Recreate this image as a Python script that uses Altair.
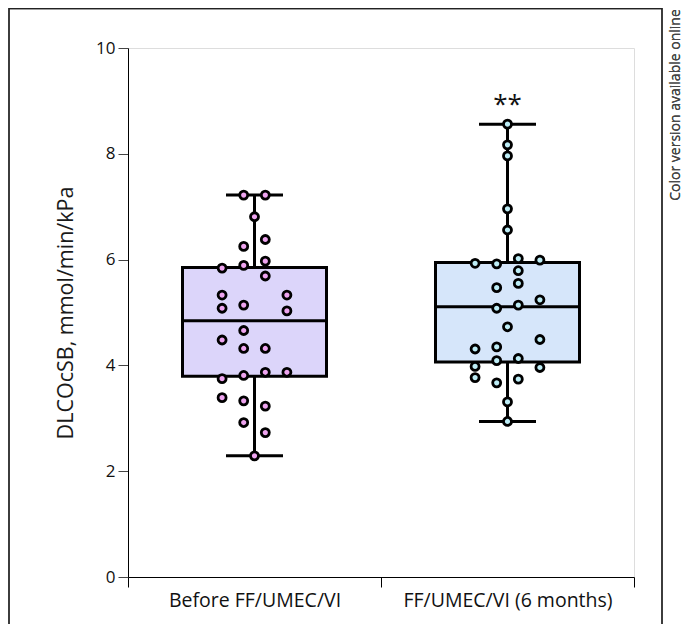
import altair as alt
import pandas as pd

groups = ["Before FF/UMEC/VI", "FF/UMEC/VI (6 months)"]

before_vals = [7.22, 7.22, 6.81, 6.38, 6.25, 5.97, 5.89, 5.84, 5.69, 5.33, 5.33, 5.08, 5.14, 5.03,
               4.66, 4.48, 4.32, 4.32, 3.87, 3.87, 3.81, 3.75, 3.39, 3.33, 3.23, 2.92, 2.73, 2.29]
before_cols = [-1, 1, 0, 1, -1, 1, -1, -3, 1, -3, 3, -3, -1, 3,
               -1, -3, -1, 1, 1, 3, -1, -3, -3, -1, 1, -1, 1, 0]

after_vals = [8.56, 8.17, 7.96, 6.96, 6.56, 5.93, 5.92, 6.02, 5.99, 5.79, 5.55, 5.47, 5.24, 5.08,
              5.14, 4.73, 4.49, 4.31, 4.35, 4.09, 4.13, 3.98, 3.96, 3.77, 3.67, 3.74, 3.31, 2.94]
after_cols = [0, 0, 0, 0, 0, -3, -1, 1, 3, 1, 1, -1, 3, -1,
              1, 0, 3, -3, -1, -1, 1, -3, 3, -3, -1, 1, 0, 0]

box_fills = ["#dcd5fa", "#d6e6fa"]
point_fills = ["#eea4ef", "#bdedf6"]

sig_label = ["", "**"]
sig_y = [0, 8.93]

y_ticks = [0, 2, 4, 6, 8, 10]

rows = []
for v, c in zip(before_vals, before_cols):
    rows.append({"group": groups[0], "value": v, "col": c})
for v, c in zip(after_vals, after_cols):
    rows.append({"group": groups[1], "value": v, "col": c})
df = pd.DataFrame(rows)

ann = pd.DataFrame({"group": groups, "label": sig_label, "y": sig_y})

FONT = "Open Sans"

x_enc = alt.X("group:N", sort=groups,
              scale=alt.Scale(domain=groups, paddingInner=0, paddingOuter=0),
              axis=alt.Axis(title=None, labelAngle=0, tickBand="extent", tickSize=10,
                            labelFontSize=19.5, labelPadding=4, labelColor="#111", labelLimit=400,
                            domainColor="#000", tickColor="#000", labelFont=FONT))
y_scale = alt.Scale(domain=[0, 10], nice=False)
y_axis = alt.Axis(values=y_ticks, title="DLCOcSB, mmol/min/kPa", grid=False, tickSize=10,
                  labelFontSize=17, labelPadding=3, titleFontSize=21.5, titleFontWeight="normal",
                  titlePadding=18, domainColor="#000", tickColor="#444", labelColor="#111",
                  titleColor="#1a1a1a", labelFont=FONT, titleFont=FONT)

base = alt.Chart(df)
agg = base.transform_aggregate(
    q1="q1(value)", med="median(value)", q3="q3(value)", lo="min(value)", hi="max(value)",
    groupby=["group"])

fill_scale = alt.Scale(domain=groups, range=box_fills)
pt_scale = alt.Scale(domain=groups, range=point_fills)

whisker = agg.mark_rule(color="black", strokeWidth=3).encode(
    x=x_enc, y=alt.Y("lo:Q", scale=y_scale, axis=y_axis), y2="hi:Q")
box = agg.mark_bar(size=144, stroke="black", strokeWidth=3).encode(
    x=x_enc, y=alt.Y("q1:Q", scale=y_scale, axis=y_axis), y2="q3:Q",
    fill=alt.Fill("group:N", scale=fill_scale, legend=None))
median = agg.mark_tick(size=144, thickness=3, color="black", opacity=1).encode(
    x=x_enc, y=alt.Y("med:Q", scale=y_scale, axis=y_axis))
cap_lo = agg.mark_tick(size=57, thickness=3, color="black", opacity=1).encode(
    x=x_enc, y=alt.Y("lo:Q", scale=y_scale, axis=y_axis))
cap_hi = agg.mark_tick(size=57, thickness=3, color="black", opacity=1).encode(
    x=x_enc, y=alt.Y("hi:Q", scale=y_scale, axis=y_axis))

points = base.mark_circle(size=64, stroke="black", strokeWidth=2.8, opacity=1).encode(
    x=x_enc,
    xOffset=alt.XOffset("col:Q", scale=alt.Scale(domain=[-11.71, 11.71])),
    y=alt.Y("value:Q", scale=y_scale, axis=y_axis),
    fill=alt.Fill("group:N", scale=pt_scale, legend=None))

stars = alt.Chart(ann).mark_text(fontSize=26, font=FONT, color="#111", baseline="middle").encode(
    x=x_enc, y=alt.Y("y:Q", scale=y_scale, axis=y_axis), text="label:N")

frame = alt.Chart(ann).mark_rect(fill=None, stroke="#222", strokeWidth=1.3).encode(
    x=alt.value(-119), x2=alt.value(534), y=alt.value(-39.3), y2=alt.value(600))

side = alt.Chart(ann).mark_text(text="Color version available online", angle=270,
                                fontSize=14, font=FONT, color="#444", align="center",
                                baseline="middle").encode(
    x=alt.value(548), y=alt.value(57))

chart = alt.layer(frame, whisker, box, median, cap_lo, cap_hi, points, stars, side).resolve_scale(
    fill="independent"
).properties(
    width=506, height=529,
    autosize=alt.AutoSizeParams(type="none"),
    padding={"left": 120, "top": 40, "right": 55, "bottom": 47},
).configure_view(stroke=None).configure(background="white")

chart.save("out.html", embed_options={"renderer": "svg", "actions": False})
